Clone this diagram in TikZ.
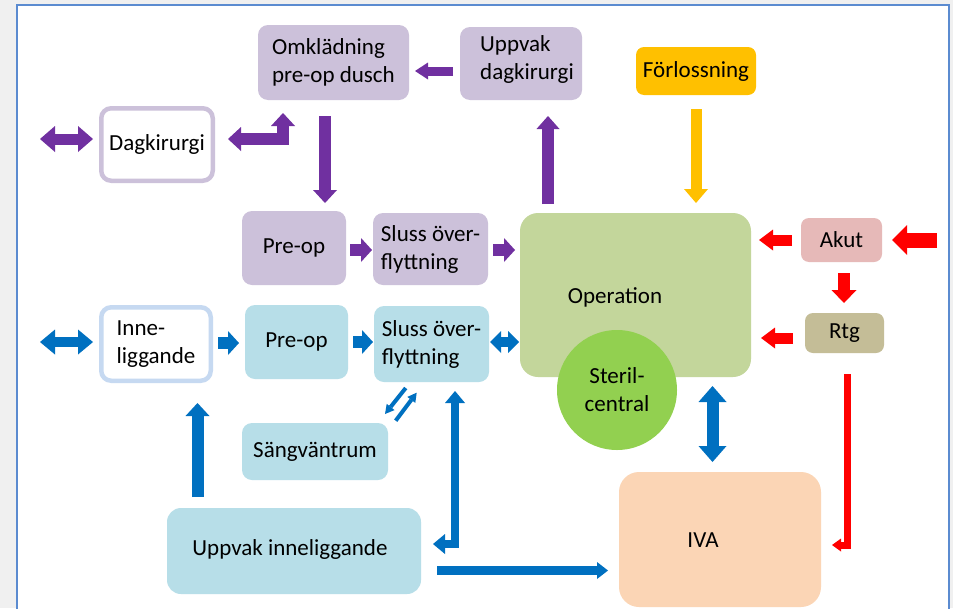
\documentclass[tikz,border=0pt]{standalone}
\usepackage{fontspec}
\setmainfont{Carlito}
\usetikzlibrary{arrows.meta,calc}

\definecolor{pagegray}{HTML}{F0F0F0}
\definecolor{framec}{HTML}{5B8BD0}
\definecolor{pfill}{HTML}{CCC1DA}
\definecolor{bfill}{HTML}{B7DEE8}
\definecolor{binne}{HTML}{C6D9F1}
\definecolor{pc}{HTML}{7030A0}
\definecolor{bc}{HTML}{0070C0}
\definecolor{rc}{HTML}{FF0000}
\definecolor{gc}{HTML}{FFC000}
\definecolor{opfill}{HTML}{C3D69B}
\definecolor{sterfill}{HTML}{92D050}
\definecolor{akutfill}{HTML}{E6B9B8}
\definecolor{rtgfill}{HTML}{C4BD97}
\definecolor{ivafill}{HTML}{FBD5B5}

\begin{document}
\begin{tikzpicture}[x=1pt,y=-1pt,
  box/.style={rectangle, rounded corners=10pt, inner sep=0pt,
    font=\fontsize{23}{28}\selectfont, align=left},
  lbl/.style={inner sep=0pt, font=\fontsize{23}{28}\selectfont, align=left},
  barrow/.style n args={3}{line width=#1, line join=miter,
    >={Triangle[width=#2,length=#3,line width=0pt]}},
]
\useasboundingbox (0,0) rectangle (953,608);
\clip (0,0) rectangle (953,608);

% page and frame
\fill[pagegray] (0,0) rectangle (953,608);
\filldraw[fill=white, draw=framec, line width=2pt] (17,5) rectangle (949,630);

% day-surgery flow (purple)
\node[box, fill=pfill, minimum width=151pt, minimum height=75pt] (omk) at (333.5,62.5) {Omklädning\\pre-op dusch};
\node[box, fill=pfill, minimum width=122pt, minimum height=73pt] (upd) at (521,63.5) {};
\node[lbl] (updt) at (527,59) {Uppvak\\dagkirurgi};
\node[box, fill=gc, rounded corners=8pt, minimum width=120pt, minimum height=48pt] (forl) at (696,71) {Förlossning};
\node[box, fill=white, draw=pfill, line width=4.5pt, minimum width=111.5pt, minimum height=72.5pt] (dag) at (157,144.5) {Dagkirurgi};
\node[box, fill=pfill, minimum width=104pt, minimum height=74pt] (prep) at (294,248) {Pre-op};
\node[box, fill=pfill, minimum width=115pt, minimum height=72pt] (slp) at (430.5,249) {Sluss över-\\flyttning};

% operation unit
\node[box, fill=opfill, rounded corners=18pt, minimum width=231pt, minimum height=164pt] (op) at (635.5,295) {};
\node[lbl] (opt) at (615,297) {Operation};
\node[circle, fill=sterfill, minimum size=120pt, inner sep=0pt, align=center,
  font=\fontsize{23}{28}\selectfont] (ster) at (617,390) {Steril-\\central};

% emergency
\node[box, fill=akutfill, rounded corners=8pt, minimum width=81pt, minimum height=44pt] (akut) at (841.5,240) {Akut};
\node[box, fill=rtgfill, rounded corners=8pt, minimum width=79pt, minimum height=40pt] (rtg) at (844.5,333) {Rtg};

% inpatient flow (blue)
\node[box, fill=white, draw=binne, line width=4.5pt, minimum width=109.5pt, minimum height=73.5pt] (inne) at (156,344) {Inne-\\liggande};
\node[box, fill=bfill, minimum width=103pt, minimum height=74pt] (preb) at (296.5,342) {Pre-op};
\node[box, fill=bfill, minimum width=115pt, minimum height=76pt] (slb) at (431.5,344) {Sluss över-\\flyttning};
\node[box, fill=bfill, minimum width=146pt, minimum height=57pt] (sang) at (315,451.5) {Sängväntrum};
\node[box, fill=bfill, rounded corners=14pt, minimum width=254pt, minimum height=86pt] (uppi) at (294,551) {};
\node[lbl] (uppit) at (290,549) {Uppvak inneliggande};
\node[box, fill=ivafill, rounded corners=20pt, minimum width=202pt, minimum height=135pt] (iva) at (720,539.5) {};
\node[lbl] (ivat) at (703,540) {IVA};

% purple connectors
\draw[pc, barrow={11pt}{26pt}{15pt}, <->] ($(dag.center)+(-117,-5.5)$) -- ($(dag.center)+(-64,-5.5)$);
\draw[pc, barrow={11.5pt}{24pt}{13pt}, <->] ($(dag.center)+(71,-5.5)$) -| ($(omk.center)+(-50.5,50.5)$);
\draw[pc, barrow={12pt}{24pt}{13pt}, ->] ($(omk.center)+(-8.5,53.5)$) -- ($(prep.center)+(31,-45)$);
\draw[pc, barrow={9pt}{17pt}{13pt}, ->] ($(upd.center)+(-68,7.5)$) -- ($(omk.center)+(81.5,8.5)$);
\draw[pc, barrow={12pt}{23pt}{13pt}, ->] ($(op.center)+(-87.5,-91)$) -- ($(upd.center)+(27,52.5)$);
\draw[pc, barrow={12pt}{24pt}{11pt}, ->] ($(prep.center)+(56,2)$) -- ($(slp.center)+(-58.5,1)$);
\draw[pc, barrow={12pt}{24pt}{11pt}, ->] ($(slp.center)+(62.5,1)$) -- ($(op.center)+(-120.5,-45)$);

% delivery ward
\draw[gc, barrow={11pt}{24pt}{14pt}, ->] ($(forl.center)+(0,38)$) -- ($(op.center)+(60.5,-92)$);

% emergency connectors
\draw[rc, barrow={15pt}{30pt}{15pt}, ->] ($(akut.center)+(95.5,0)$) -- ($(akut.center)+(50.5,0)$);
\draw[rc, barrow={11pt}{21pt}{14pt}, ->] ($(akut.center)+(-49.5,0)$) -- ($(op.center)+(123.5,-55)$);
\draw[rc, barrow={11.5pt}{25pt}{13pt}, ->] ($(akut.center)+(2.5,33)$) -- ($(rtg.center)+(-0.5,-30)$);
\draw[rc, barrow={11pt}{21pt}{14pt}, ->] ($(rtg.center)+(-51.5,5)$) -- ($(op.center)+(125.5,43)$);
\draw[rc, barrow={7pt}{13pt}{9pt}, ->] ($(rtg.center)+(2.5,41)$) |- ($(iva.center)+(112,5.5)$);

% blue connectors
\draw[bc, barrow={10pt}{25pt}{15pt}, <->] ($(inne.center)+(-116,-2)$) -- ($(inne.center)+(-63,-2)$);
\draw[bc, barrow={12pt}{24pt}{11pt}, ->] ($(inne.center)+(62,-1)$) -- ($(preb.center)+(-57.5,1)$);
\draw[bc, barrow={12pt}{24pt}{11pt}, ->] ($(preb.center)+(56.5,0)$) -- ($(slb.center)+(-58.5,-2)$);
\draw[bc, barrow={10pt}{22pt}{11pt}, <->] ($(slb.center)+(58.5,-2)$) -- ($(op.center)+(-116.5,47)$);
\draw[bc, barrow={4pt}{10pt}{9pt}, ->] ($(slb.center)+(-25.8,44)$) -- ($(sang.center)+(70,-37.5)$);
\draw[bc, barrow={4pt}{10pt}{9pt}, ->] ($(sang.center)+(80.7,-30.8)$) -- ($(slb.center)+(-14.8,48.7)$);
\draw[bc, barrow={12pt}{24pt}{13pt}, ->] ($(uppi.center)+(-96.5,-54)$) -- ($(inne.center)+(41.5,59)$);
\draw[bc, barrow={8.5pt}{20pt}{12pt}, <->] ($(uppi.center)+(139,-7)$) -| ($(slb.center)+(23.5,47)$);
\draw[bc, barrow={9pt}{17pt}{11pt}, ->] ($(uppi.center)+(143,19.5)$) -- ($(iva.center)+(-112,31)$);
\draw[bc, barrow={12pt}{28pt}{16pt}, <->] ($(op.center)+(77,91)$) -- ($(iva.center)+(-7.5,-77.5)$);
\end{tikzpicture}
\end{document}
